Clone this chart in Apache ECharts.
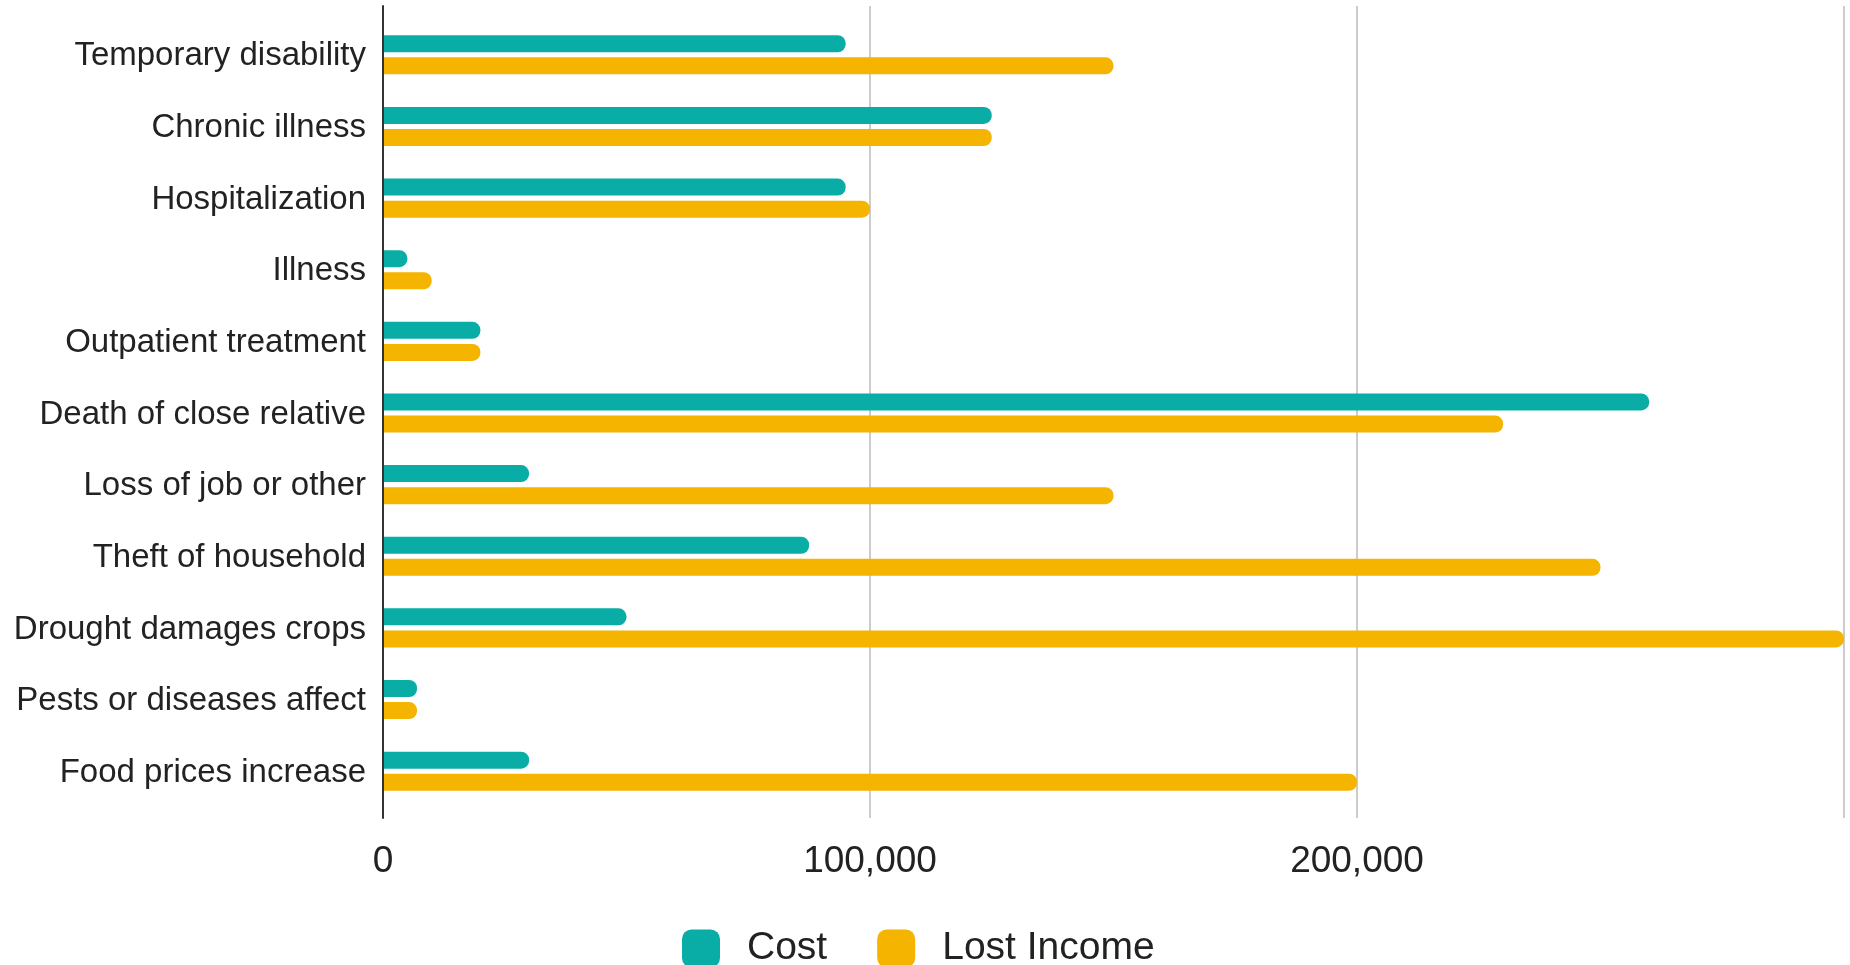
<!DOCTYPE html>
<html>
<head>
<meta charset="utf-8">
<script src="https://cdn.jsdelivr.net/npm/echarts@6/dist/echarts.min.js"></script>
<style>
  html, body { margin: 0; padding: 0; background: #fff; }
  #chart { width: 1850px; height: 965px; }
</style>
</head>
<body>
<div id="chart"></div>
<script>
// Shock types, listed top to bottom
const categories = [
  'Temporary disability',
  'Chronic illness',
  'Hospitalization',
  'Illness',
  'Outpatient treatment',
  'Death of close relative',
  'Loss of job or other',
  'Theft of household',
  'Drought damages crops',
  'Pests or diseases affect',
  'Food prices increase'
];

// Values per category, same order as above
const costValues = [95000, 125000, 95000, 5000, 20000, 260000, 30000, 87500, 50000, 7000, 30000];
const lostIncomeValues = [150000, 125000, 100000, 10000, 20000, 230000, 150000, 250000, 300000, 7000, 200000];

// Value axis ticks
const axisMin = 0;
const axisMax = 300000;
const axisStep = 100000;

const FONT = '"Liberation Sans", Arial, sans-serif';
const TEAL = '#0aada6';
const AMBER = '#f4b400';

const chart = echarts.init(document.getElementById('chart'), null, { renderer: 'canvas' });

chart.setOption({
  animation: false,
  backgroundColor: '#ffffff',
  legend: {
    left: 682,
    top: 929,
    padding: 0,
    itemWidth: 38,
    itemHeight: 38,
    itemGap: 50,
    icon: 'roundRect',
    textStyle: { fontFamily: FONT, fontSize: 39, color: '#222', padding: [0, 0, 0, 22] },
    data: ['Cost', 'Lost Income']
  },
  grid: [
    // frame: gridlines, zero line and tick labels
    { left: 383, right: 6, top: 6, bottom: 147 },
    // bars
    { left: 383, right: 6, top: 19, bottom: 158 }
  ],
  xAxis: [
    {
      gridIndex: 0,
      type: 'value',
      min: axisMin,
      max: axisMax,
      interval: axisStep,
      axisLine: { show: false },
      axisTick: { show: false },
      splitLine: { show: true, lineStyle: { color: '#cccccc', width: 2 } },
      axisLabel: {
        showMaxLabel: false,
        margin: 25,
        fontFamily: FONT,
        fontSize: 37,
        color: '#222',
        formatter: v => v.toLocaleString('en-US')
      }
    },
    {
      gridIndex: 1,
      type: 'value',
      min: axisMin,
      max: axisMax,
      show: false
    }
  ],
  yAxis: [
    {
      gridIndex: 0,
      type: 'value',
      min: 0,
      max: 1,
      axisLine: { show: true, lineStyle: { color: '#333', width: 2 } },
      axisTick: { show: false },
      axisLabel: { show: false },
      splitLine: { show: false },
      z: 5
    },
    {
      gridIndex: 1,
      type: 'category',
      inverse: true,
      data: categories,
      axisLine: { show: false },
      axisTick: { show: false },
      splitLine: { show: false },
      axisLabel: {
        margin: 17,
        formatter: v => '{c|' + v + '}',
        rich: {
          c: {
            fontFamily: FONT,
            fontSize: 33,
            color: '#222',
            padding: [3, 0, 0, 0]
          }
        }
      }
    }
  ],
  series: [
    {
      name: 'Cost',
      type: 'bar',
      xAxisIndex: 1,
      yAxisIndex: 1,
      data: costValues,
      barWidth: 17,
      barGap: '30%',
      itemStyle: { color: TEAL, borderRadius: [0, 8, 8, 0] }
    },
    {
      name: 'Lost Income',
      type: 'bar',
      xAxisIndex: 1,
      yAxisIndex: 1,
      data: lostIncomeValues,
      barWidth: 17,
      barGap: '30%',
      itemStyle: { color: AMBER, borderRadius: [0, 8, 8, 0] }
    }
  ]
});
</script>
</body>
</html>
